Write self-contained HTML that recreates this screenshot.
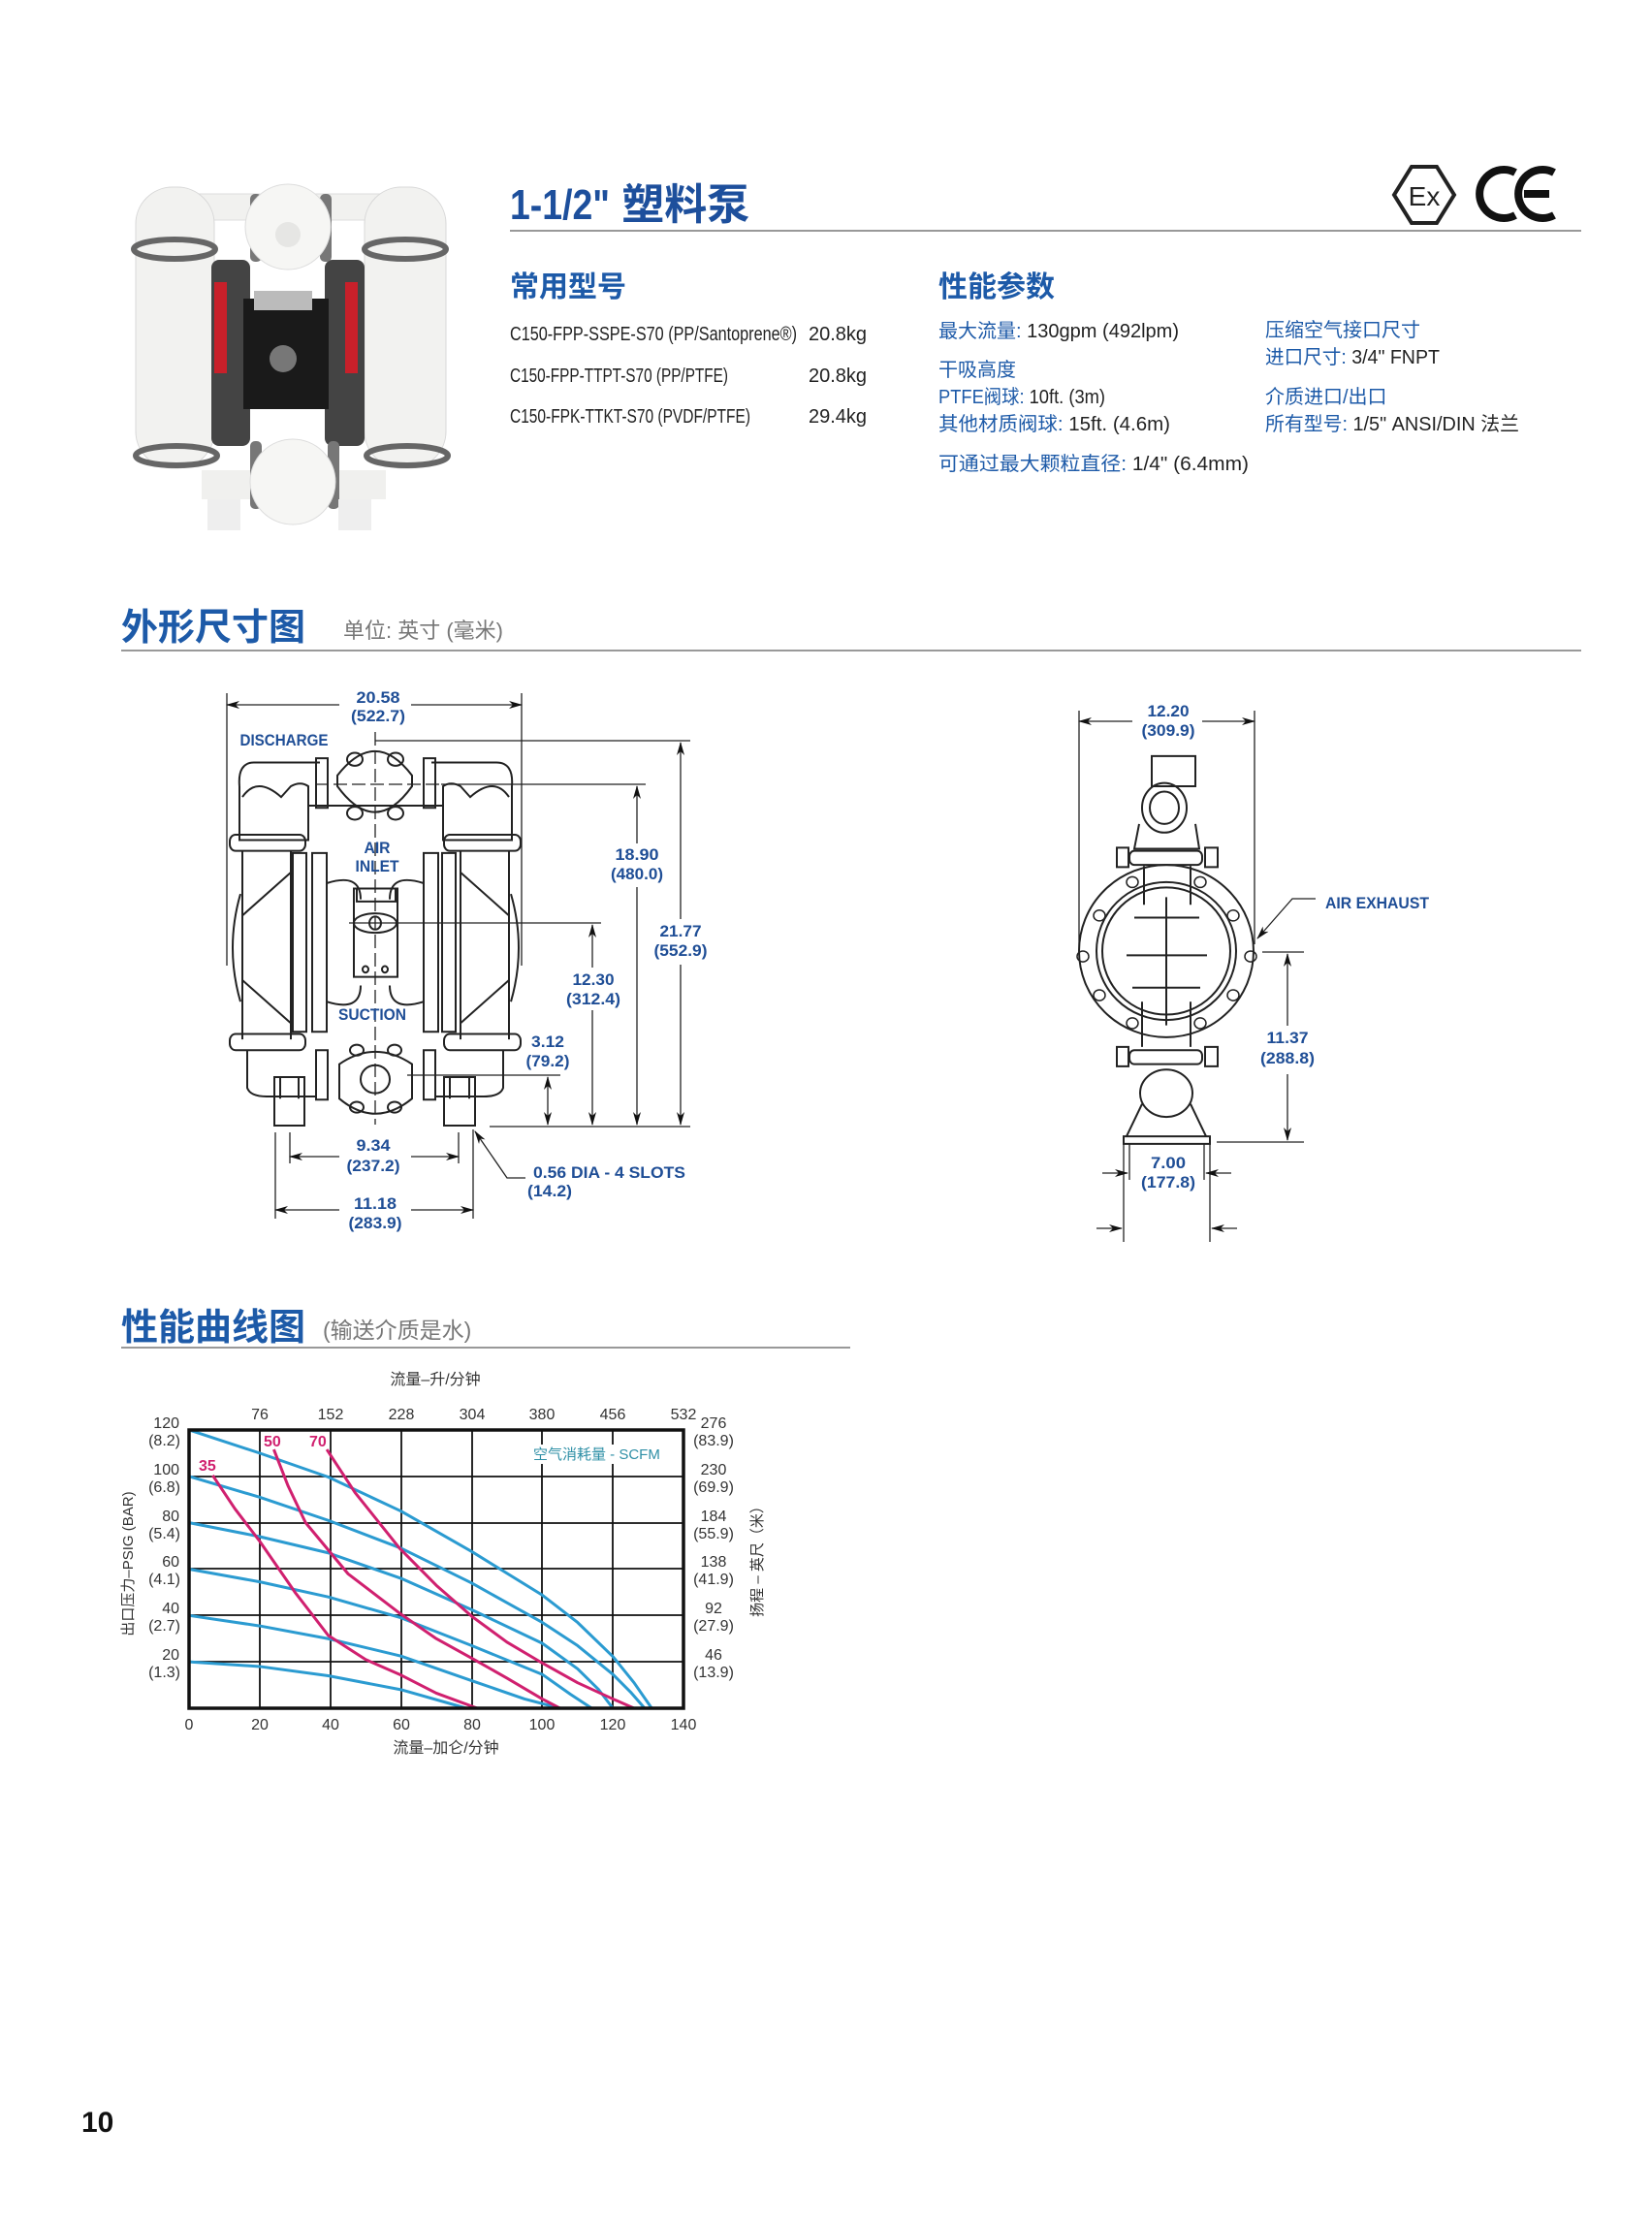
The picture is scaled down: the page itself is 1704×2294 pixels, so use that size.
<!DOCTYPE html>
<html><head><meta charset="utf-8"><style>
html,body{margin:0;padding:0;background:#fff}
svg{display:block}
.cj{font-family:"Liberation Sans","Noto Sans CJK SC",sans-serif}
.nr{font-family:"Liberation Sans","Noto Sans CJK SC",sans-serif}
.lb{font-family:"Liberation Sans",sans-serif;font-weight:bold;fill:#1f4e96;font-size:17px}
.ln{stroke:#222;stroke-width:2;fill:none}
.ln *{vector-effect:non-scaling-stroke}
.d{stroke:#222;stroke-width:1.3;fill:none}
.ax{font-family:"Liberation Sans",sans-serif;font-size:16px;fill:#333}
</style></head><body>
<svg width="1704" height="2294" viewBox="0 0 1704 2294" xmlns="http://www.w3.org/2000/svg">
<defs>
<marker id="a" markerWidth="14" markerHeight="8" refX="13" refY="4" orient="auto-start-reverse" markerUnits="userSpaceOnUse"><path d="M0,0 L14,4 L0,8 L4,4 Z" fill="#111"/></marker>
</defs>

<!-- Pump photo -->
<g>
<rect x="180" y="200" width="240" height="27" rx="12" fill="#f1f1ef" stroke="#ddd"/>
<rect x="140" y="193" width="81" height="290" rx="38" fill="#f2f2f0" stroke="#d8d8d8"/>
<rect x="376" y="193" width="84" height="290" rx="38" fill="#f2f2f0" stroke="#d8d8d8"/>
<ellipse cx="180" cy="257" rx="42" ry="10" fill="none" stroke="#666" stroke-width="6"/>
<ellipse cx="418" cy="257" rx="42" ry="10" fill="none" stroke="#666" stroke-width="6"/>
<ellipse cx="182" cy="470" rx="42" ry="10" fill="none" stroke="#666" stroke-width="6"/>
<ellipse cx="420" cy="470" rx="42" ry="10" fill="none" stroke="#666" stroke-width="6"/>
<rect x="218" y="268" width="40" height="192" rx="8" fill="#444"/>
<rect x="335" y="268" width="41" height="192" rx="8" fill="#444"/>
<rect x="221" y="291" width="13" height="94" fill="#c8202a"/>
<rect x="356" y="291" width="13" height="94" fill="#c8202a"/>
<rect x="251" y="308" width="88" height="114" fill="#1a1a1a"/>
<circle cx="292" cy="370" r="14" fill="#777"/>
<rect x="262" y="300" width="60" height="20" fill="#bbb"/>
<rect x="258" y="200" width="12" height="70" rx="5" fill="#777"/>
<rect x="330" y="200" width="12" height="70" rx="5" fill="#777"/>
<circle cx="297" cy="234" r="44" fill="#f6f6f4" stroke="#ddd"/>
<circle cx="297" cy="242" r="13" fill="#e6e6e4"/>
<rect x="208" y="485" width="190" height="30" fill="#f0f0ee"/>
<rect x="258" y="455" width="12" height="70" rx="5" fill="#777"/>
<rect x="338" y="455" width="12" height="70" rx="5" fill="#777"/>
<circle cx="302" cy="497" r="44" fill="#f6f6f4" stroke="#ddd"/>
<rect x="214" y="515" width="34" height="32" fill="#eee"/>
<rect x="349" y="515" width="34" height="32" fill="#eee"/>
</g>

<!-- Header -->
<text x="526" y="226" class="cj" font-size="44" font-weight="bold" fill="#1d4f9c"><tspan textLength="103" lengthAdjust="spacingAndGlyphs">1-1/2"</tspan> 塑料泵</text>
<line x1="526" y1="238" x2="1631" y2="238" stroke="#999" stroke-width="2"/>
<polygon points="1456,172 1482,172 1500,201 1482,230 1456,230 1438,201" fill="none" stroke="#222" stroke-width="4"/>
<text x="1469" y="212" text-anchor="middle" class="cj" font-size="28" fill="#222">Ex</text>
<g fill="none" stroke="#111" stroke-width="8">
<path d="M1563,178 A25,25 0 1 0 1563,222"/>
<path d="M1603,178 A25,25 0 1 0 1603,222"/>
<line x1="1572" y1="200" x2="1598" y2="200"/>
</g>

<text x="526" y="306" class="cj" font-size="30" font-weight="bold" fill="#1d5aa8">常用型号</text>
<g class="nr" font-size="20" fill="#222">
<text x="526" y="351" textLength="296" lengthAdjust="spacingAndGlyphs">C150-FPP-SSPE-S70 (PP/Santoprene®)</text><text x="834" y="351">20.8kg</text>
<text x="526" y="394" textLength="225" lengthAdjust="spacingAndGlyphs">C150-FPP-TTPT-S70 (PP/PTFE)</text><text x="834" y="394">20.8kg</text>
<text x="526" y="436" textLength="248" lengthAdjust="spacingAndGlyphs">C150-FPK-TTKT-S70 (PVDF/PTFE)</text><text x="834" y="436">29.4kg</text>
</g>
<text x="968" y="306" class="cj" font-size="30" font-weight="bold" fill="#1d5aa8">性能参数</text>
<g class="nr" font-size="20" fill="#222">
<text x="968" y="348" textLength="248" lengthAdjust="spacingAndGlyphs"><tspan fill="#1d5aa8">最大流量:</tspan> 130gpm (492lpm)</text>
<text x="968" y="388" fill="#1d5aa8">干吸高度</text>
<text x="968" y="416" textLength="172" lengthAdjust="spacingAndGlyphs"><tspan fill="#1d5aa8">PTFE阀球:</tspan> 10ft. (3m)</text>
<text x="968" y="444" textLength="239" lengthAdjust="spacingAndGlyphs"><tspan fill="#1d5aa8">其他材质阀球:</tspan> 15ft. (4.6m)</text>
<text x="968" y="485" textLength="320" lengthAdjust="spacingAndGlyphs"><tspan fill="#1d5aa8">可通过最大颗粒直径:</tspan> 1/4" (6.4mm)</text>
<text x="1305" y="347" fill="#1d5aa8">压缩空气接口尺寸</text>
<text x="1305" y="375" textLength="180" lengthAdjust="spacingAndGlyphs"><tspan fill="#1d5aa8">进口尺寸:</tspan> 3/4" FNPT</text>
<text x="1305" y="416" fill="#1d5aa8">介质进口/出口</text>
<text x="1305" y="444" textLength="262" lengthAdjust="spacingAndGlyphs"><tspan fill="#1d5aa8">所有型号:</tspan> 1/5" ANSI/DIN 法兰</text>
</g>

<text x="125" y="660" class="cj" font-size="38" font-weight="bold" fill="#1d5aa8">外形尺寸图</text>
<text x="354" y="658" class="cj" font-size="22" fill="#777">单位: 英寸 (毫米)</text>
<line x1="125" y1="671" x2="1631" y2="671" stroke="#999" stroke-width="2"/>

<!-- Front drawing body (scaled vertically) -->
<g class="ln" transform="matrix(1,0,0,1.111,0,-77.8)">
<path d="M247,800 Q245,778 262,778 L330,778 M445,778 L512,778 Q530,778 528,800"/>
<path d="M247,800 L247,850 L318,850 L318,800 Q310,795 300,800 L290,810 Q265,790 250,810"/>
<path d="M528,800 L528,850 L457,850 L457,800 Q465,795 475,800 L485,810 Q510,790 525,810"/>
<line x1="318" y1="818" x2="457" y2="818"/>
<rect x="326" y="774" width="12" height="46"/><rect x="437" y="774" width="12" height="46"/>
<path d="M348,790 Q387,745 425,790 L425,800 Q387,848 348,800 Z"/>
<ellipse cx="366" cy="775" rx="8" ry="6"/><ellipse cx="408" cy="775" rx="8" ry="6"/>
<ellipse cx="366" cy="825" rx="8" ry="6"/><ellipse cx="408" cy="825" rx="8" ry="6"/>
<rect x="237" y="845" width="78" height="15" rx="6"/><rect x="458" y="845" width="79" height="15" rx="6"/>
<path d="M250,860 L250,1035 M300,860 L300,1035 M475,860 L475,1035 M525,860 L525,1035"/>
<path d="M248,900 Q232,950 248,1000 M527,900 Q543,950 527,1000"/>
<path d="M250,920 L300,880 M250,980 L300,1020 M525,920 L475,880 M525,980 L475,1020"/>
<rect x="302" y="862" width="14" height="166"/><rect x="322" y="862" width="15" height="166"/>
<rect x="437" y="862" width="15" height="166"/><rect x="456" y="862" width="14" height="166"/>
<path d="M337,890 Q372,880 372,905 M437,890 Q402,880 402,905 M337,1000 Q372,1010 372,985 M437,1000 Q402,1010 402,985"/>
<rect x="365" y="895" width="45" height="82"/>
<rect x="368" y="895" width="40" height="12"/>
<ellipse cx="387" cy="927" rx="22" ry="9"/><circle cx="387" cy="927" r="6"/>
<circle cx="377" cy="970" r="3"/><circle cx="397" cy="970" r="3"/>
<rect x="237" y="1030" width="78" height="15" rx="6"/><rect x="458" y="1030" width="79" height="15" rx="6"/>
<path d="M255,1045 L255,1080 Q258,1088 275,1088 L326,1088 M519,1045 L519,1080 Q516,1088 499,1088 L449,1088"/>
<rect x="326" y="1045" width="12" height="46"/><rect x="437" y="1045" width="12" height="46"/>
<path d="M350,1058 Q387,1035 425,1058 L425,1090 Q387,1118 350,1090 Z"/>
<ellipse cx="387" cy="1072" rx="15" ry="13"/>
<ellipse cx="368" cy="1045" rx="7" ry="5"/><ellipse cx="407" cy="1045" rx="7" ry="5"/>
<ellipse cx="368" cy="1098" rx="7" ry="5"/><ellipse cx="407" cy="1098" rx="7" ry="5"/>
<rect x="283" y="1070" width="31" height="45"/><rect x="458" y="1070" width="32" height="45"/>
<path d="M289,1090 L289,1070 M308,1090 L308,1070 M464,1090 L464,1070 M484,1090 L484,1070"/>
</g>
<g class="d">
<line x1="387" y1="755" x2="387" y2="1160" stroke-dasharray="14,5"/>
<line x1="325" y1="809" x2="455" y2="809" stroke-dasharray="14,5"/>
<line x1="234" y1="715" x2="234" y2="996"/><line x1="538" y1="715" x2="538" y2="996"/>
<line x1="234" y1="727" x2="350" y2="727" marker-start="url(#a)"/><line x1="424" y1="727" x2="538" y2="727" marker-end="url(#a)"/>
<line x1="387" y1="764" x2="712" y2="764"/>
<line x1="455" y1="809" x2="666" y2="809"/>
<line x1="360" y1="952" x2="620" y2="952"/>
<line x1="420" y1="1109" x2="578" y2="1109"/>
<line x1="505" y1="1162" x2="712" y2="1162"/>
<line x1="702" y1="766" x2="702" y2="948" marker-start="url(#a)"/><line x1="702" y1="995" x2="702" y2="1160" marker-end="url(#a)"/>
<line x1="657" y1="811" x2="657" y2="870" marker-start="url(#a)"/><line x1="657" y1="915" x2="657" y2="1160" marker-end="url(#a)"/>
<line x1="611" y1="954" x2="611" y2="998" marker-start="url(#a)"/><line x1="611" y1="1042" x2="611" y2="1160" marker-end="url(#a)"/>
<line x1="565" y1="1111" x2="565" y2="1160" marker-start="url(#a)" marker-end="url(#a)"/>
<line x1="299" y1="1168" x2="299" y2="1200"/><line x1="473" y1="1168" x2="473" y2="1200"/>
<line x1="299" y1="1193" x2="350" y2="1193" marker-start="url(#a)"/><line x1="424" y1="1193" x2="473" y2="1193" marker-end="url(#a)"/>
<line x1="284" y1="1168" x2="284" y2="1257"/><line x1="488" y1="1165" x2="488" y2="1257"/>
<line x1="284" y1="1248" x2="350" y2="1248" marker-start="url(#a)"/><line x1="424" y1="1248" x2="488" y2="1248" marker-end="url(#a)"/>
<polyline points="542,1215 523,1215 490,1167" marker-end="url(#a)"/>
</g>
<g class="lb" text-anchor="middle">
<text x="390" y="725" textLength="45" lengthAdjust="spacingAndGlyphs">20.58</text><text x="390" y="744" textLength="56" lengthAdjust="spacingAndGlyphs">(522.7)</text>
<text x="293" y="769" textLength="91" lengthAdjust="spacingAndGlyphs">DISCHARGE</text>
<text x="389" y="880" textLength="27" lengthAdjust="spacingAndGlyphs">AIR</text><text x="389" y="899" textLength="45" lengthAdjust="spacingAndGlyphs">INLET</text>
<text x="384" y="1052" textLength="70" lengthAdjust="spacingAndGlyphs">SUCTION</text>
<text x="657" y="887" textLength="45" lengthAdjust="spacingAndGlyphs">18.90</text><text x="657" y="907" textLength="54" lengthAdjust="spacingAndGlyphs">(480.0)</text>
<text x="702" y="966" textLength="43" lengthAdjust="spacingAndGlyphs">21.77</text><text x="702" y="986" textLength="55" lengthAdjust="spacingAndGlyphs">(552.9)</text>
<text x="612" y="1016" textLength="43" lengthAdjust="spacingAndGlyphs">12.30</text><text x="612" y="1036" textLength="56" lengthAdjust="spacingAndGlyphs">(312.4)</text>
<text x="565" y="1080" textLength="34" lengthAdjust="spacingAndGlyphs">3.12</text><text x="565" y="1100" textLength="45" lengthAdjust="spacingAndGlyphs">(79.2)</text>
<text x="385" y="1187" textLength="35" lengthAdjust="spacingAndGlyphs">9.34</text><text x="385" y="1208" textLength="55" lengthAdjust="spacingAndGlyphs">(237.2)</text>
<text x="387" y="1247" textLength="44" lengthAdjust="spacingAndGlyphs">11.18</text><text x="387" y="1267" textLength="55" lengthAdjust="spacingAndGlyphs">(283.9)</text>
<text x="567" y="1234" textLength="46" lengthAdjust="spacingAndGlyphs">(14.2)</text>
</g>
<text x="550" y="1215" class="lb" textLength="157" lengthAdjust="spacingAndGlyphs">0.56  DIA - 4 SLOTS</text>

<!-- Side drawing body -->
<g class="ln" transform="matrix(1,0,0,1.111,0,-77.8)">
<rect x="1188" y="772" width="45" height="28"/>
<circle cx="1201" cy="820" r="23"/><circle cx="1201" cy="820" r="15"/>
<path d="M1175,835 L1170,858 L1237,858 L1233,835"/>
<rect x="1165" y="860" width="75" height="13" rx="5"/>
<rect x="1152" y="857" width="12" height="18"/><rect x="1243" y="857" width="13" height="18"/>
<ellipse cx="1203" cy="953" rx="90" ry="80"/><ellipse cx="1203" cy="953" rx="72" ry="64"/><ellipse cx="1203" cy="953" rx="66" ry="59"/>
<path d="M1180,874 L1180,910 M1228,874 L1228,910 M1178,1000 L1178,1042 M1228,1000 L1228,1042"/>
<path d="M1170,922 L1237,922 M1162,957 L1245,957 M1168,987 L1238,987 M1203,903 L1203,1022"/>
<rect x="1165" y="1045" width="75" height="13" rx="5"/>
<rect x="1152" y="1042" width="12" height="18"/><rect x="1243" y="1042" width="13" height="18"/>
<ellipse cx="1203" cy="1085" rx="27" ry="22"/>
<path d="M1178,1095 L1162,1125 M1228,1095 L1244,1125"/>
<rect x="1159" y="1125" width="89" height="7"/>
<g stroke-width="1.5"><ellipse cx="1168" cy="889" rx="6" ry="5"/><ellipse cx="1238" cy="889" rx="6" ry="5"/><ellipse cx="1134" cy="920" rx="6" ry="5"/><ellipse cx="1272" cy="920" rx="6" ry="5"/><ellipse cx="1117" cy="958" rx="6" ry="5"/><ellipse cx="1290" cy="958" rx="6" ry="5"/><ellipse cx="1134" cy="994" rx="6" ry="5"/><ellipse cx="1272" cy="994" rx="6" ry="5"/><ellipse cx="1168" cy="1020" rx="6" ry="5"/><ellipse cx="1238" cy="1020" rx="6" ry="5"/></g>
</g>
<g class="d">
<line x1="1113" y1="733" x2="1113" y2="981"/><line x1="1294" y1="733" x2="1294" y2="974"/>
<line x1="1113" y1="744" x2="1168" y2="744" marker-start="url(#a)"/><line x1="1240" y1="744" x2="1294" y2="744" marker-end="url(#a)"/>
<polyline points="1357,927 1333,927 1297,968" marker-end="url(#a)"/>
<line x1="1302" y1="982" x2="1345" y2="982"/>
<line x1="1255" y1="1178" x2="1345" y2="1178"/>
<line x1="1328" y1="984" x2="1328" y2="1058" marker-start="url(#a)"/><line x1="1328" y1="1108" x2="1328" y2="1176" marker-end="url(#a)"/>
<line x1="1159" y1="1180" x2="1159" y2="1281"/><line x1="1248" y1="1180" x2="1248" y2="1281"/>
<line x1="1165" y1="1180" x2="1165" y2="1217"/><line x1="1242" y1="1180" x2="1242" y2="1217"/>
<line x1="1137" y1="1210" x2="1163" y2="1210" marker-end="url(#a)"/><line x1="1270" y1="1210" x2="1244" y2="1210" marker-end="url(#a)"/>
<line x1="1131" y1="1267" x2="1157" y2="1267" marker-end="url(#a)"/><line x1="1276" y1="1267" x2="1250" y2="1267" marker-end="url(#a)"/>
</g>
<g class="lb" text-anchor="middle">
<text x="1205" y="739" textLength="43" lengthAdjust="spacingAndGlyphs">12.20</text><text x="1205" y="759" textLength="55" lengthAdjust="spacingAndGlyphs">(309.9)</text>
<text x="1328" y="1076" textLength="43" lengthAdjust="spacingAndGlyphs">11.37</text><text x="1328" y="1097" textLength="56" lengthAdjust="spacingAndGlyphs">(288.8)</text>
<text x="1205" y="1205" textLength="36" lengthAdjust="spacingAndGlyphs">7.00</text><text x="1205" y="1225" textLength="56" lengthAdjust="spacingAndGlyphs">(177.8)</text>
</g>
<text x="1367" y="937" class="lb" textLength="107" lengthAdjust="spacingAndGlyphs">AIR EXHAUST</text>

<!-- Performance -->
<text x="125" y="1382" class="cj" font-size="38" font-weight="bold" fill="#1d5aa8">性能曲线图</text>
<text x="333" y="1380" class="cj" font-size="23" fill="#777">(输送介质是水)</text>
<line x1="125" y1="1390" x2="877" y2="1390" stroke="#999" stroke-width="2"/>

<g stroke="#111" stroke-width="1.8">
<line x1="268" y1="1475" x2="268" y2="1762"/><line x1="341" y1="1475" x2="341" y2="1762"/><line x1="414" y1="1475" x2="414" y2="1762"/>
<line x1="487" y1="1475" x2="487" y2="1762"/><line x1="559" y1="1475" x2="559" y2="1762"/><line x1="632" y1="1475" x2="632" y2="1762"/>
<line x1="195" y1="1523" x2="705" y2="1523"/><line x1="195" y1="1571" x2="705" y2="1571"/><line x1="195" y1="1618" x2="705" y2="1618"/>
<line x1="195" y1="1666" x2="705" y2="1666"/><line x1="195" y1="1714" x2="705" y2="1714"/>
</g>
<rect x="548" y="1490" width="135" height="20" fill="#fff"/>
<g transform="translate(195,1762) scale(3.643,-2.392)" fill="none" stroke-width="3" stroke-linejoin="round">
<g stroke="#2b9bd1">
<polyline vector-effect="non-scaling-stroke" points="0,120 20,110 39.4,99.7 60,85 80,67.6 100,48.8 110,37 120,22.3 126,11 131,0"/>
<polyline vector-effect="non-scaling-stroke" points="0,100 20,91 39.4,81 60,69 80,54 100,37 110,27 120,14.6 125,7 129,0"/>
<polyline vector-effect="non-scaling-stroke" points="0,80 20,74 39.4,67 60,56 80,42.5 100,28 110,17 116,8 120,0"/>
<polyline vector-effect="non-scaling-stroke" points="0,60 20,54.5 39.4,48 60,39 80,27 100,14.6 108,6 114,0"/>
<polyline vector-effect="non-scaling-stroke" points="0,40 20,35.5 39.4,30 60,22.5 80,11.9 95,4 105,0"/>
<polyline vector-effect="non-scaling-stroke" points="0,20 20,18 39.4,14 60,8 78.5,0"/>
</g>
<g stroke="#d0206f">
<polyline vector-effect="non-scaling-stroke" points="6.7,100.4 13,86 20,72 30,50 39.4,31.4 50,21 59.6,14.6 70,6.5 81.6,0"/>
<polyline vector-effect="non-scaling-stroke" points="24,111.6 28,96 33,80 45,58 59.6,41 70,30 80,21.6 90,13 100,4 105,0"/>
<polyline vector-effect="non-scaling-stroke" points="39,111.6 47,93 59.6,69 70,53 80,39.7 90,28.5 100,19.5 110,11 120,4 126,0"/>
</g>
</g>
<rect x="195" y="1475" width="510" height="287" fill="none" stroke="#111" stroke-width="3.5"/>
<text x="550" y="1505" class="cj" font-size="15" fill="#2e8fa6">空气消耗量 - SCFM</text>
<g font-family="Liberation Sans" font-weight="bold" font-size="16" fill="#d0206f">
<text x="205" y="1517">35</text><text x="272" y="1492">50</text><text x="319" y="1492">70</text>
</g>
<g class="ax" text-anchor="end">
<text x="185" y="1473">120</text><text x="186" y="1491">(8.2)</text>
<text x="185" y="1521">100</text><text x="186" y="1539">(6.8)</text>
<text x="185" y="1569">80</text><text x="186" y="1587">(5.4)</text>
<text x="185" y="1616">60</text><text x="186" y="1634">(4.1)</text>
<text x="185" y="1664">40</text><text x="186" y="1682">(2.7)</text>
<text x="185" y="1712">20</text><text x="186" y="1730">(1.3)</text>
</g>
<g class="ax" text-anchor="middle">
<text x="736" y="1473">276</text><text x="736" y="1491">(83.9)</text>
<text x="736" y="1521">230</text><text x="736" y="1539">(69.9)</text>
<text x="736" y="1569">184</text><text x="736" y="1587">(55.9)</text>
<text x="736" y="1616">138</text><text x="736" y="1634">(41.9)</text>
<text x="736" y="1664">92</text><text x="736" y="1682">(27.9)</text>
<text x="736" y="1712">46</text><text x="736" y="1730">(13.9)</text>
<text x="268" y="1464">76</text><text x="341" y="1464">152</text><text x="414" y="1464">228</text><text x="487" y="1464">304</text>
<text x="559" y="1464">380</text><text x="632" y="1464">456</text><text x="705" y="1464">532</text>
<text x="195" y="1784">0</text><text x="268" y="1784">20</text><text x="341" y="1784">40</text><text x="414" y="1784">60</text>
<text x="487" y="1784">80</text><text x="559" y="1784">100</text><text x="632" y="1784">120</text><text x="705" y="1784">140</text>
</g>
<text x="449" y="1428" text-anchor="middle" class="cj" font-size="16" fill="#333">流量–升/分钟</text>
<text x="460" y="1808" text-anchor="middle" class="cj" font-size="16" fill="#333">流量–加仑/分钟</text>
<text transform="translate(137,1613) rotate(-90)" text-anchor="middle" class="cj" font-size="15" fill="#333">出口压力–PSIG (BAR)</text>
<text transform="translate(786,1607) rotate(-90)" text-anchor="middle" class="cj" font-size="15" fill="#333">扬程 – 英尺（米）</text>

<text x="84" y="2199" font-family="Liberation Sans" font-weight="bold" font-size="30" fill="#111">10</text>
</svg>
</body></html>
